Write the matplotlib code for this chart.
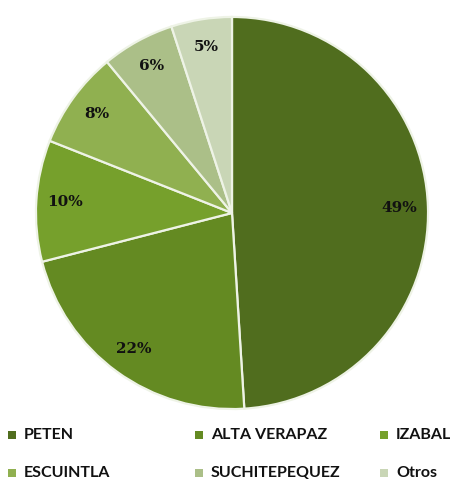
import matplotlib.pyplot as plt
from matplotlib.patches import Rectangle

# Share by department (percent)
departments = ['PETEN', 'ALTA VERAPAZ', 'IZABAL', 'ESCUINTLA', 'SUCHITEPEQUEZ', 'Otros']
shares = [49, 22, 10, 8, 6, 5]
colors = ['#506D1E', '#648A22', '#76A02C', '#90B050', '#ABBF88', '#C9D6B6']

fig = plt.figure(figsize=(4.52, 4.83), dpi=100)
fig.patch.set_facecolor('white')

ax = fig.add_axes([34 / 452, 72 / 483, 396 / 452, 396 / 483])
wedges, texts, autotexts = ax.pie(
    shares,
    colors=colors,
    startangle=90,
    counterclock=False,
    radius=1.0,
    autopct='%d%%',
    pctdistance=0.855,
    wedgeprops=dict(edgecolor='#EEF3E6', linewidth=1.6),
    textprops=dict(fontsize=11, fontweight='bold', family='DejaVu Serif', color='#111111'),
)
ax.set_xlim(-1.01, 1.01)
ax.set_ylim(-1.01, 1.01)
ax.axis('off')

# Legend laid out in a 3x2 grid below the pie
col_x = [8, 195, 380]
row_y = [435, 473]
for i, (name, c) in enumerate(zip(departments, colors)):
    x = col_x[i % 3]
    y = row_y[i // 3]
    fig.add_artist(Rectangle((x / 452, 1 - (y + 4) / 483), 8 / 452, 8 / 483,
                             transform=fig.transFigure, facecolor=c, edgecolor='none'))
    fig.text((x + 16) / 452, 1 - y / 483, name, fontsize=11.5, fontweight='bold',
             family='Lato', color='#111111', va='center', ha='left')

fig.savefig('out.png', dpi=100)
